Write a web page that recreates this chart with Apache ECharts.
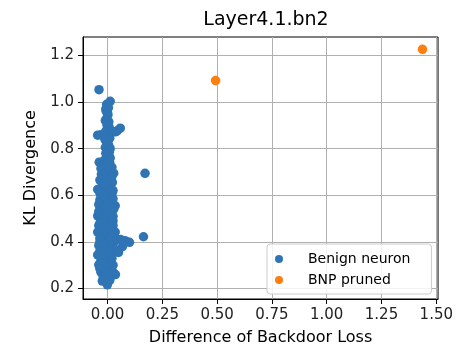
<!DOCTYPE html>
<html>
<head>
<meta charset="utf-8">
<script src="https://cdn.jsdelivr.net/npm/echarts@6/dist/echarts.min.js"></script>
<style>html,body{margin:0;padding:0;background:#fff;}#c{width:456px;height:351px;}</style>
</head>
<body>
<div id="c"></div>
<script>
var titleText = 'Layer4.1.bn2';
var xName = 'Difference of Backdoor Loss';
var yName = 'KL Divergence';
var seriesNames = ['Benign neuron', 'BNP pruned'];
var xTicks = [0, 0.25, 0.5, 0.75, 1.0, 1.25, 1.5];
var yTicks = [0.2, 0.4, 0.6, 0.8, 1.0, 1.2];

var benignX = [-0.039, 0.012, -0.004, 0.004, -0.006, 0.002, -0.004, 0.006, -0.002, 0.008,
  0.058, 0.045, 0.036, -0.045, -0.03, 0.0, 0.01, -0.005, 0.005, -0.003,
  0.008, 0.0, -0.01, -0.038, -0.025, 0.01, 0.0, -0.015, 0.015, 0.028,
  0.171, -0.005, 0.01, -0.02, 0.005, -0.025, -0.045, 0.015, -0.01, 0.02,
  -0.03, 0.0, -0.035, 0.015, -0.02, 0.035, 0.005, -0.03, 0.02, -0.015,
  -0.045, 0.01, -0.03, 0.025, 0.0, -0.04, 0.015, -0.02, -0.045, 0.035,
  0.005, -0.03, 0.02, -0.01, 0.164, 0.04, 0.06, 0.08, 0.1, 0.03,
  -0.035, 0.0, 0.015, 0.068, -0.025, 0.035, 0.005, -0.015, -0.045, 0.02,
  0.05, 0.0, -0.03, 0.015, -0.04, 0.005, -0.02, 0.01, -0.03, 0.036,
  0.02, -0.01, 0.0, -0.024, -0.001,
  -0.008, 0.0, -0.01, 0.0, -0.008, 0.012, 0.02, -0.012, 0.0, -0.01,
  0.012, -0.008, 0.012, -0.02, -0.005, 0.02, -0.03, 0.005, -0.028, 0.02,
  -0.012, -0.035, 0.022, -0.008, -0.035, 0.025, -0.015, 0.025, -0.04, 0.0,
  -0.01, 0.028, -0.04, -0.005, 0.025, -0.02, 0.01, -0.035, 0.025, -0.01,
  -0.03, 0.015, -0.02, 0.01, -0.035, -0.015, -0.04, 0.025, -0.035, 0.01,
  -0.025, 0.02, -0.015, 0.025, -0.035, 0.0, 0.025, -0.02, 0.01];
var benignY = [1.053, 1.003, 0.99, 0.975, 0.96, 0.945, 0.93, 0.915, 0.9, 0.89,
  0.888, 0.877, 0.872, 0.858, 0.86, 0.86, 0.845, 0.83, 0.815, 0.8,
  0.785, 0.77, 0.755, 0.742, 0.73, 0.74, 0.72, 0.705, 0.7, 0.695,
  0.694, 0.685, 0.67, 0.66, 0.65, 0.64, 0.625, 0.63, 0.615, 0.605,
  0.6, 0.59, 0.58, 0.575, 0.565, 0.555, 0.55, 0.54, 0.53, 0.52,
  0.512, 0.505, 0.495, 0.49, 0.48, 0.47, 0.465, 0.455, 0.442, 0.442,
  0.44, 0.43, 0.425, 0.415, 0.422, 0.412, 0.41, 0.405, 0.398, 0.4,
  0.4, 0.395, 0.385, 0.38, 0.375, 0.366, 0.365, 0.355, 0.344, 0.345,
  0.355, 0.33, 0.32, 0.315, 0.302, 0.3, 0.29, 0.28, 0.27, 0.26,
  0.255, 0.26, 0.245, 0.232, 0.216,
  0.97, 0.955, 0.92, 0.905, 0.875, 0.865, 0.87, 0.84, 0.825, 0.805,
  0.8, 0.78, 0.76, 0.745, 0.735, 0.72, 0.715, 0.705, 0.69, 0.68,
  0.675, 0.665, 0.655, 0.64, 0.61, 0.62, 0.595, 0.585, 0.56, 0.565,
  0.545, 0.54, 0.53, 0.515, 0.51, 0.5, 0.485, 0.48, 0.47, 0.465,
  0.455, 0.45, 0.435, 0.42, 0.415, 0.39, 0.385, 0.375, 0.36, 0.35,
  0.34, 0.33, 0.31, 0.3, 0.285, 0.27, 0.27, 0.25, 0.235];
var prunedX = [0.493, 1.437];
var prunedY = [1.092, 1.226];

function zip(a, b) { return a.map(function (v, i) { return [v, b[i]]; }); }

var FONT = 'DejaVu Sans';
var chart = echarts.init(document.getElementById('c'), null, { renderer: 'canvas' });
chart.setOption({
  animation: false,
  backgroundColor: '#fff',
  textStyle: { fontFamily: FONT },
  title: {
    text: titleText,
    left: 261,
    top: 6,
    textAlign: 'center',
    textStyle: { fontFamily: FONT, fontSize: 19, fontWeight: 'normal', color: '#000' }
  },
  grid: {
    left: 83, top: 37, right: 17, bottom: 47,
    show: true, borderColor: '#000', borderWidth: 1, backgroundColor: 'transparent'
  },
  legend: {
    left: 267, top: 244,
    orient: 'vertical',
    itemWidth: 8, itemHeight: 8, itemGap: 7,
    padding: [8, 21, 7, 8],
    backgroundColor: 'rgba(255,255,255,0.85)',
    borderColor: '#cccccc', borderWidth: 1, borderRadius: 3,
    icon: 'circle',
    textStyle: { fontFamily: FONT, fontSize: 14, color: '#000', padding: [0, 0, 0, 20] },
    data: seriesNames
  },
  xAxis: {
    type: 'value',
    min: -0.112, max: 1.508,
    name: xName, nameLocation: 'middle', nameGap: 31,
    nameTextStyle: { fontFamily: FONT, fontSize: 16, color: '#000' },
    axisLine: { show: true, onZero: false, lineStyle: { color: '#000', width: 1 } },
    axisTick: { show: true, length: 5, inside: false, customValues: xTicks, lineStyle: { color: '#000' } },
    axisLabel: { customValues: xTicks, margin: 9, fontFamily: FONT, fontSize: 15, color: '#222',
      formatter: function (v) { return v.toFixed(2); } },
    splitLine: { show: true, lineStyle: { color: '#b0b0b0', width: 1 } }
  },
  yAxis: {
    type: 'value',
    min: 0.155, max: 1.279,
    name: yName, nameLocation: 'middle', nameGap: 44, nameRotate: 90,
    nameTextStyle: { fontFamily: FONT, fontSize: 16, color: '#000' },
    axisLine: { show: true, onZero: false, lineStyle: { color: '#000', width: 1 } },
    axisTick: { show: true, length: 5, inside: false, customValues: yTicks, lineStyle: { color: '#000' } },
    axisLabel: { customValues: yTicks, margin: 9, fontFamily: FONT, fontSize: 15, color: '#222',
      formatter: function (v) { return v.toFixed(1); } },
    splitLine: { show: true, lineStyle: { color: '#b0b0b0', width: 1 } }
  },
  series: [
    {
      name: seriesNames[0], type: 'scatter', symbolSize: 9.5,
      itemStyle: { color: '#2f74b4', opacity: 1 },
      data: zip(benignX, benignY), z: 2
    },
    {
      name: seriesNames[1], type: 'scatter', symbolSize: 9.5,
      itemStyle: { color: '#ff7f0e', opacity: 1 },
      data: zip(prunedX, prunedY), z: 3
    }
  ]
});
</script>
</body>
</html>
